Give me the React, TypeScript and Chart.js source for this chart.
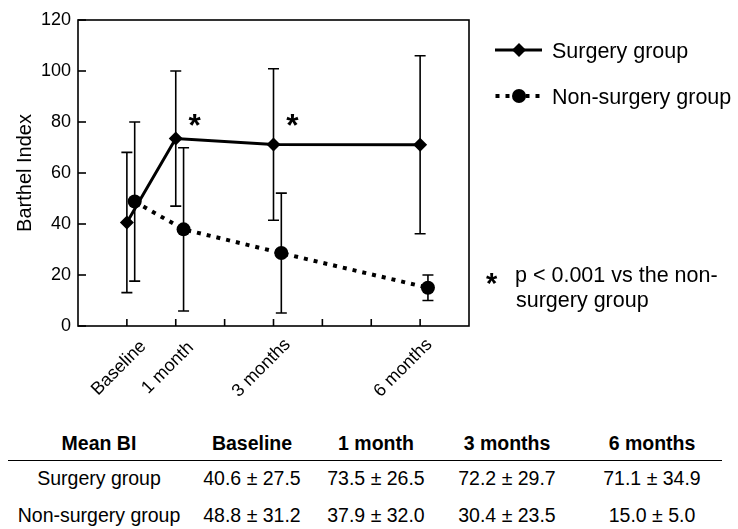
import React, { useEffect, useRef } from "react";
import { Chart, registerables } from "chart.js";

Chart.register(...registerables);

// ---------- data ----------
const timeLabels = ["Baseline", "1 month", "3 months", "6 months"];
const months = [0, 1, 3, 6];
const surgeryMean = [40.6, 73.5, 71.2, 71.1];
const surgerySD = [27.5, 26.5, 29.7, 34.9];
const nonSurgeryMean = [48.8, 37.9, 28.6, 15.0];
const nonSurgerySD = [31.2, 32.0, 23.5, 5.0];
const nonSurgeryShift = 0.16; // small horizontal jitter (months)
const significant = [false, true, true, false];
const yTicks = [0, 20, 40, 60, 80, 100, 120];
const xTickMonths = [0, 1, 2, 3, 4, 5, 6];
const seriesNames = ["Surgery group", "Non-surgery group"];
const footnote = ["p < 0.001 vs the non-", "surgery group"];
const tableHeader = ["Mean BI", "Baseline", "1 month", "3 months", "6 months"];
const tableSurgery = ["Surgery group", "40.6 ± 27.5", "73.5 ± 26.5", "72.2 ± 29.7", "71.1 ± 34.9"];
const tableNonSurgery = ["Non-surgery group", "48.8 ± 31.2", "37.9 ± 32.0", "30.4 ± 23.5", "15.0 ± 5.0"];

// ---------- layout / style ----------
const FONT = '"Liberation Sans", Arial, Helvetica, sans-serif';
const xLabelNudge = [-8, -8, -12, -17];
const colCenters = [99, 252, 376, 507, 652];
const rowCenters = [443, 478, 515];

function drawStar(ctx: CanvasRenderingContext2D, cx: number, cy: number, h: number) {
  ctx.save();
  ctx.font = `bold 100px ${FONT}`;
  const m0 = ctx.measureText("*");
  const h0 = m0.actualBoundingBoxAscent + m0.actualBoundingBoxDescent;
  const size = (100 * h) / h0;
  ctx.font = `bold ${size}px ${FONT}`;
  const m = ctx.measureText("*");
  const L = m.actualBoundingBoxLeft, R = m.actualBoundingBoxRight;
  const A = m.actualBoundingBoxAscent, D = m.actualBoundingBoxDescent;
  ctx.textAlign = "left";
  ctx.textBaseline = "alphabetic";
  ctx.fillStyle = "#000";
  ctx.fillText("*", cx - (R - L) / 2, cy - (D - A) / 2);
  ctx.restore();
}

const decor = {
  id: "decor",
  beforeDatasetsDraw(chart: any) {
    const { ctx, scales } = chart;
    const x = scales.x, y = scales.y;
    ctx.save();
    ctx.strokeStyle = "#000";
    ctx.lineWidth = 1.6;
    chart.data.datasets.forEach((ds: any) => {
      ds.data.forEach((p: any, i: number) => {
        const px = x.getPixelForValue(p.x);
        const top = y.getPixelForValue(p.y + ds.sd[i]);
        const bot = y.getPixelForValue(p.y - ds.sd[i]);
        ctx.beginPath();
        ctx.moveTo(px, top);
        ctx.lineTo(px, bot);
        ctx.moveTo(px - 5.5, top);
        ctx.lineTo(px + 5.5, top);
        ctx.moveTo(px - 5.5, bot);
        ctx.lineTo(px + 5.5, bot);
        ctx.stroke();
      });
    });
    ctx.restore();
  },
  afterDraw(chart: any) {
    const { ctx, chartArea, scales } = chart;
    const x = scales.x, y = scales.y;
    const { left, right, top, bottom } = chartArea;
    ctx.save();
    ctx.strokeStyle = "#000";
    ctx.fillStyle = "#000";
    // frame
    ctx.lineWidth = 1.6;
    ctx.strokeRect(left, top, right - left, bottom - top);
    // y ticks + labels
    ctx.font = `18px ${FONT}`;
    ctx.textAlign = "right";
    ctx.textBaseline = "middle";
    yTicks.forEach((v) => {
      const py = y.getPixelForValue(v);
      ctx.beginPath();
      ctx.moveTo(left, py);
      ctx.lineTo(left + 8, py);
      ctx.stroke();
      ctx.fillText(String(v), left - 7, py + 0.5);
    });
    // x ticks
    xTickMonths.forEach((v) => {
      const px = x.getPixelForValue(v);
      ctx.beginPath();
      ctx.moveTo(px, bottom);
      ctx.lineTo(px, bottom - 7);
      ctx.stroke();
    });
    // x labels rotated
    ctx.font = `18px ${FONT}`;
    ctx.textAlign = "center";
    ctx.textBaseline = "middle";
    months.forEach((m, i) => {
      const px = x.getPixelForValue(m) + xLabelNudge[i];
      ctx.save();
      ctx.translate(px, bottom + 42);
      ctx.rotate(-Math.PI / 4);
      ctx.fillText(timeLabels[i], 0, 0);
      ctx.restore();
    });
    // y title
    ctx.save();
    ctx.font = `20px ${FONT}`;
    ctx.translate(25.5, (top + bottom) / 2);
    ctx.rotate(-Math.PI / 2);
    ctx.textAlign = "center";
    ctx.textBaseline = "middle";
    ctx.fillText("Barthel Index", 0, 0);
    ctx.restore();
    // significance stars
    months.forEach((m, i) => {
      if (!significant[i]) return;
      drawStar(ctx, x.getPixelForValue(m) + 13, y.getPixelForValue(77.5), 12);
    });
    // legend
    const legendY = [50, 96];
    chart.data.datasets.forEach((ds: any, i: number) => {
      const ly = legendY[i];
      ctx.save();
      ctx.lineWidth = ds.borderWidth;
      ctx.setLineDash(ds.borderDash || []);
      ctx.lineDashOffset = ds.borderDash ? -0.5 : 0;
      ctx.beginPath();
      ctx.moveTo(495, ly);
      ctx.lineTo(542, ly);
      ctx.stroke();
      ctx.restore();
      const r = ds.pointRadius;
      ctx.beginPath();
      if (ds.pointStyle === "rectRot") {
        ctx.moveTo(519, ly - r);
        ctx.lineTo(519 + r, ly);
        ctx.lineTo(519, ly + r);
        ctx.lineTo(519 - r, ly);
        ctx.closePath();
      } else {
        ctx.arc(519, ly, r, 0, Math.PI * 2);
      }
      ctx.fill();
      ctx.font = `21.5px ${FONT}`;
      ctx.textAlign = "left";
      ctx.textBaseline = "alphabetic";
      ctx.fillText(ds.label, 552, ly + 7.5);
    });
    // footnote
    drawStar(ctx, 492, 279, 11);
    ctx.font = `21.5px ${FONT}`;
    ctx.textAlign = "left";
    ctx.textBaseline = "alphabetic";
    ctx.fillText(footnote[0], 515, 282);
    ctx.fillText(footnote[1], 516, 307);
    ctx.restore();
  },
};

export default function App() {
  const ref = useRef<HTMLCanvasElement>(null);
  useEffect(() => {
    document.body.style.margin = "0";
    const chart = new Chart(ref.current!, {
      type: "line",
      data: {
        datasets: [
          {
            label: seriesNames[0],
            data: months.map((m, i) => ({ x: m, y: surgeryMean[i] })),
            sd: surgerySD,
            borderColor: "#000",
            backgroundColor: "#000",
            pointBackgroundColor: "#000",
            borderWidth: 3,
            pointStyle: "rectRot",
            pointRadius: 7,
            pointBorderWidth: 0,
            tension: 0,
          } as any,
          {
            label: seriesNames[1],
            data: months.map((m, i) => ({ x: m + nonSurgeryShift, y: nonSurgeryMean[i] })),
            sd: nonSurgerySD,
            borderColor: "#000",
            backgroundColor: "#000",
            pointBackgroundColor: "#000",
            borderWidth: 4,
            borderDash: [4, 6],
            pointStyle: "circle",
            pointRadius: 7,
            pointBorderWidth: 0,
            tension: 0,
          } as any,
        ],
      },
      options: {
        animation: false,
        responsive: false,
        devicePixelRatio: 1,
        events: [],
        layout: { padding: { left: 78, right: 269, top: 20, bottom: 94 } },
        scales: {
          x: { type: "linear", min: -1, max: 7, display: false },
          y: { type: "linear", min: 0, max: 120, display: false },
        },
        plugins: { legend: { display: false }, tooltip: { enabled: false } },
      },
      plugins: [decor],
    });
    return () => chart.destroy();
  }, []);

  const rows = [tableHeader, tableSurgery, tableNonSurgery];
  return (
    <div style={{ position: "relative", width: 738, height: 529, fontFamily: FONT, color: "#000", background: "#fff" }}>
      <canvas ref={ref} width={738} height={420} style={{ position: "absolute", left: 0, top: 0, display: "block" }} />
      {rows.map((row, ri) =>
        row.map((cell, ci) => (
          <div
            key={`${ri}-${ci}`}
            style={{
              position: "absolute",
              left: colCenters[ci] - 90,
              width: 180,
              top: rowCenters[ri] - 12,
              height: 24,
              lineHeight: "24px",
              textAlign: "center",
              fontSize: 19.5,
              fontWeight: ri === 0 ? "bold" : "normal",
              whiteSpace: "nowrap",
            }}
          >
            {cell}
          </div>
        ))
      )}
      <div style={{ position: "absolute", left: 8, top: 460, width: 714, height: 0, borderTop: "1.5px solid #000" }} />
    </div>
  );
}
